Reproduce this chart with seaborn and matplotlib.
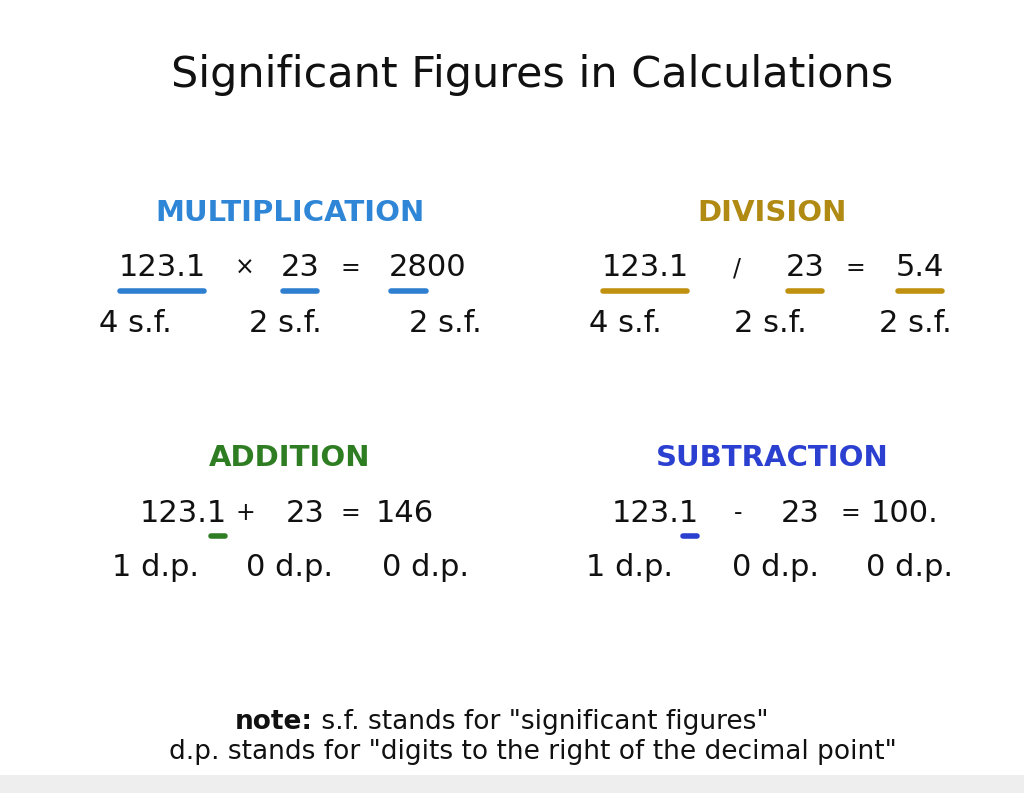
import matplotlib
matplotlib.use("Agg")
import matplotlib.pyplot as plt
import seaborn as sns

sns.set_theme(style="white")
plt.rcParams['font.family'] = ['DejaVu Sans']

# ---- content ----
title = "Significant Figures in Calculations"
headings = ["MULTIPLICATION", "DIVISION", "ADDITION", "SUBTRACTION"]
head_colors = ["#2f86d6", "#b08a12", "#2f7d22", "#2b3fd0"]
line_colors = ["#2f7fd0", "#c0900f", "#2f7d22", "#2b3fd0"]
equations = [
    ["123.1", "×", "23", "=", "2800"],
    ["123.1", "/", "23", "=", "5.4"],
    ["123.1", "+", "23", "=", "146"],
    ["123.1", "-", "23", "=", "100."],
]
rules = [
    ["4 s.f.", "2 s.f.", "2 s.f."],
    ["4 s.f.", "2 s.f.", "2 s.f."],
    ["1 d.p.", "0 d.p.", "0 d.p."],
    ["1 d.p.", "0 d.p.", "0 d.p."],
]
# underlined pieces: (token index, start char, end char)
underlines = [
    [(0, 0, 5), (2, 0, 2), (4, 0, 2)],
    [(0, 0, 5), (2, 0, 2), (4, 0, 3)],
    [(0, 4, 5)],
    [(0, 4, 5)],
]
note_bold = "note:"
note_1 = " s.f. stands for \"significant figures\""
note_2 = "d.p. stands for \"digits to the right of the decimal point\""

# ---- layout (pixel coords) ----
head_pos = [(290, 213), (772, 213), (290, 458), (772, 458)]
token_x = [
    [162, 245, 300, 350, 428],
    [645, 737, 805, 855, 920],
    [183, 245, 305, 350, 405],
    [655, 738, 800, 850, 905],
]
rule_x = [
    [135, 285, 445],
    [625, 770, 915],
    [155, 290, 425],
    [630, 775, 910],
]

fig = plt.figure(figsize=(10.24, 7.93), dpi=100)
ax = fig.add_axes([0, 0, 1, 1])
ax.set_xlim(0, 1024)
ax.set_ylim(793, 0)
ax.axis("off")

ax.text(532, 75, title, ha="center", va="center", fontsize=31, color="#111")

fig.canvas.draw()
r = fig.canvas.get_renderer()
inv = ax.transData.inverted()
for i, h in enumerate(headings):
    cx, hy = head_pos[i]
    ax.text(cx, hy, h, ha="center", va="center", fontsize=21,
            fontweight="bold", color=head_colors[i])
    ey = hy + 55
    for j, tok in enumerate(equations[i]):
        fs = 22 if j in (0, 2, 4) else 17
        t = ax.text(token_x[i][j], ey, tok, ha="center", va="center",
                    fontsize=fs, color="#111")
        for (k, a, b) in underlines[i]:
            if k != j:
                continue
            bb = t.get_window_extent(r)
            x0 = inv.transform((bb.x0, bb.y0))[0]
            x1 = inv.transform((bb.x1, bb.y0))[0]
            cw = (x1 - x0) / len(tok)
            ax.plot([x0 + a * cw + 2, x0 + b * cw - 2], [ey + 23, ey + 23],
                    color=line_colors[i], lw=4, solid_capstyle="round")
    for j, rt in enumerate(rules[i]):
        ax.text(rule_x[i][j], ey + 55, rt, ha="center", va="center",
                fontsize=22, color="#111")

t1 = ax.text(235, 722, note_bold, ha="left", va="center", fontsize=19,
             fontweight="bold", color="#111")
bb = t1.get_window_extent(r)
xe = inv.transform((bb.x1, bb.y0))[0]
ax.text(xe, 722, note_1, ha="left", va="center", fontsize=19, color="#111")
ax.text(533, 752, note_2, ha="center", va="center", fontsize=19, color="#111")
ax.axhspan(775, 793, color="#eeeeee", lw=0)

fig.savefig("out.png", dpi=100, facecolor="white")
